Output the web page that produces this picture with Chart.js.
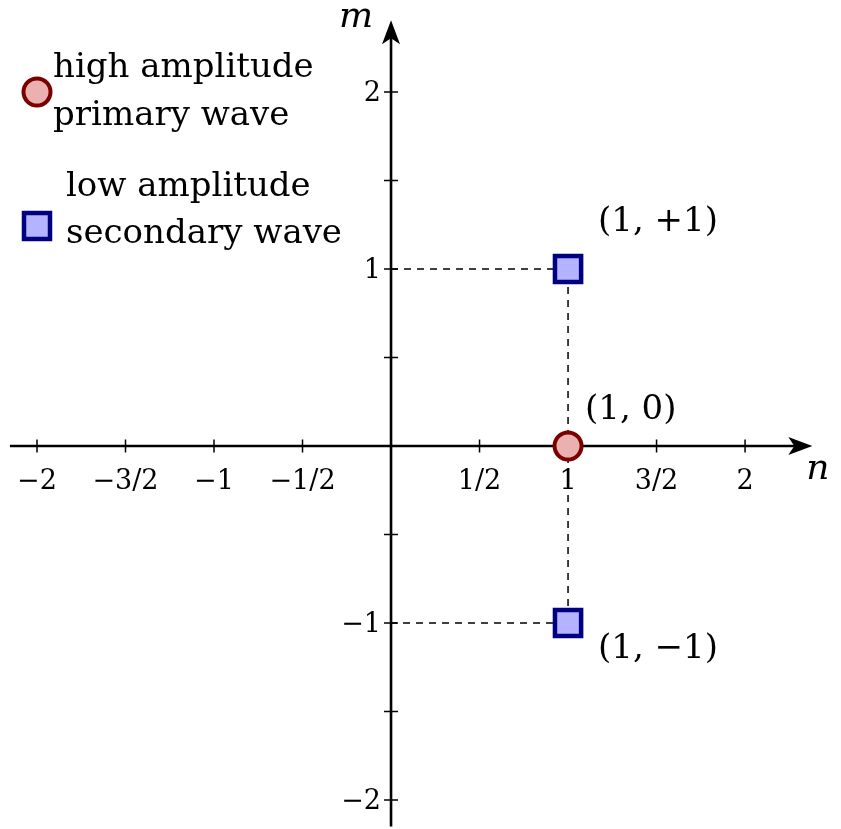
<!DOCTYPE html>
<html>
<head>
<meta charset="utf-8">
<script src="https://cdn.jsdelivr.net/npm/chart.js@4/dist/chart.umd.min.js"></script>
<style>
  html, body { margin: 0; padding: 0; background: #fff; }
  canvas { display: block; }
</style>
</head>
<body>
<canvas id="c" width="841" height="829"></canvas>
<script>
// data
var primaryN = [1];
var primaryM = [0];
var secondaryN = [1, 1];
var secondaryM = [1, -1];
var pointLabels = ['(1, +1)', '(1, 0)', '(1, \u22121)'];

var xTicks = [-2, -1.5, -1, -0.5, 0.5, 1, 1.5, 2];
var xTickLabels = ['\u22122', '\u22123/2', '\u22121', '\u22121/2', '1/2', '1', '3/2', '2'];
var yTicks = [-2, -1.5, -1, -0.5, 0.5, 1, 1.5, 2];
var yTickLabels = ['\u22122', '', '\u22121', '', '', '1', '', '2'];

var legendLines = [
  ['high amplitude', 'primary wave'],
  ['low amplitude', 'secondary wave'],
];

var serif = '"DejaVu Serif", "Liberation Serif", serif';
var colors = {
  primaryFill: '#ebb1b1',
  primaryEdge: '#7b0000',
  secondaryFill: '#b3b3ff',
  secondaryEdge: '#000080',
};

function zip(xs, ys) {
  return xs.map(function (x, i) {
    return { x: x, y: ys[i] };
  });
}

var guide = [
  { x: 0, y: secondaryM[0] },
  { x: secondaryN[0], y: secondaryM[0] },
  { x: secondaryN[1], y: secondaryM[1] },
  { x: 0, y: secondaryM[1] },
];

function arrowHead(ctx, x, y, dx, dy) {
  // stealth-like arrow, tip at (x, y), pointing along (dx, dy)
  var len = 24, half = 9, notch = 6;
  var px = -dy, py = dx;
  ctx.beginPath();
  ctx.moveTo(x, y);
  ctx.lineTo(x - dx * len + px * half, y - dy * len + py * half);
  ctx.lineTo(x - dx * (len - notch), y - dy * (len - notch));
  ctx.lineTo(x - dx * len - px * half, y - dy * len - py * half);
  ctx.closePath();
  ctx.fill();
}

var axesPlugin = {
  id: 'axes',
  beforeDatasetsDraw: function (chart) {
    var ctx = chart.ctx;
    var xs = chart.scales.x, ys = chart.scales.y;
    var ox = xs.getPixelForValue(0), oy = ys.getPixelForValue(0);
    ctx.save();
    ctx.strokeStyle = '#000';
    ctx.fillStyle = '#000';

    // axis lines
    ctx.lineWidth = 2.6;
    var xl = xs.getPixelForValue(-2.153), xr = xs.getPixelForValue(2.38);
    var yb = ys.getPixelForValue(-2.15), yt = ys.getPixelForValue(2.405);
    ctx.beginPath();
    ctx.moveTo(xl, oy); ctx.lineTo(xr - 8, oy);
    ctx.moveTo(ox, yb); ctx.lineTo(ox, yt + 8);
    ctx.stroke();
    arrowHead(ctx, xr, oy, 1, 0);
    arrowHead(ctx, ox, yt, 0, -1);

    // ticks
    ctx.lineWidth = 1.5;
    ctx.beginPath();
    xTicks.forEach(function (v) {
      var p = xs.getPixelForValue(v);
      ctx.moveTo(p, oy - 6.5); ctx.lineTo(p, oy + 6.5);
    });
    yTicks.forEach(function (v) {
      var p = ys.getPixelForValue(v);
      ctx.moveTo(ox - 7, p); ctx.lineTo(ox + 7, p);
    });
    ctx.stroke();

    // tick labels
    ctx.font = '27px ' + serif;
    ctx.textAlign = 'center';
    ctx.textBaseline = 'alphabetic';
    xTicks.forEach(function (v, i) {
      ctx.fillText(xTickLabels[i], xs.getPixelForValue(v), oy + 43);
    });
    ctx.textAlign = 'right';
    ctx.textBaseline = 'middle';
    yTicks.forEach(function (v, i) {
      if (yTickLabels[i]) ctx.fillText(yTickLabels[i], ox - 10, ys.getPixelForValue(v) + 2);
    });

    // axis titles
    ctx.font = 'italic 36px ' + serif;
    ctx.textAlign = 'left';
    ctx.textBaseline = 'alphabetic';
    ctx.fillText('n', xs.getPixelForValue(2.345), oy + 33);
    ctx.fillText('m', ox - 52, ys.getPixelForValue(2.37));
    ctx.restore();
  },
  afterDatasetsDraw: function (chart) {
    var ctx = chart.ctx;
    var xs = chart.scales.x, ys = chart.scales.y;
    ctx.save();
    ctx.fillStyle = '#000';
    ctx.font = '34px ' + serif;
    ctx.textAlign = 'left';
    ctx.textBaseline = 'alphabetic';

    // point labels
    var p1 = [xs.getPixelForValue(secondaryN[0]), ys.getPixelForValue(secondaryM[0])];
    var p0 = [xs.getPixelForValue(primaryN[0]), ys.getPixelForValue(primaryM[0])];
    var p2 = [xs.getPixelForValue(secondaryN[1]), ys.getPixelForValue(secondaryM[1])];
    ctx.fillText(pointLabels[0], p1[0] + 30, p1[1] - 38);
    ctx.fillText(pointLabels[1], p0[0] + 17, p0[1] - 27);
    ctx.fillText(pointLabels[2], p2[0] + 30, p2[1] + 35);

    // legend
    ctx.lineWidth = 4;
    ctx.fillStyle = colors.primaryFill;
    ctx.strokeStyle = colors.primaryEdge;
    ctx.beginPath();
    ctx.arc(37, 92, 13.5, 0, Math.PI * 2);
    ctx.fill();
    ctx.stroke();

    ctx.lineWidth = 4.5;
    ctx.fillStyle = colors.secondaryFill;
    ctx.strokeStyle = colors.secondaryEdge;
    ctx.fillRect(24, 213, 26, 26);
    ctx.strokeRect(24, 213, 26, 26);

    ctx.fillStyle = '#000';
    ctx.font = '34px ' + serif;
    ctx.fillText(legendLines[0][0], 53, 77);
    ctx.fillText(legendLines[0][1], 53, 125);
    ctx.fillText(legendLines[1][0], 66, 196);
    ctx.fillText(legendLines[1][1], 66, 243);
    ctx.restore();
  },
};

new Chart(document.getElementById('c'), {
  type: 'scatter',
  data: {
    datasets: [
      {
        label: 'high amplitude primary wave',
        data: zip(primaryN, primaryM),
        pointStyle: 'circle',
        pointRadius: 13.5,
        borderWidth: 4,
        backgroundColor: colors.primaryFill,
        borderColor: colors.primaryEdge,
        order: 1,
      },
      {
        label: 'low amplitude secondary wave',
        data: zip(secondaryN, secondaryM),
        pointStyle: 'rect',
        pointRadius: 18.5,
        borderWidth: 4.5,
        backgroundColor: colors.secondaryFill,
        borderColor: colors.secondaryEdge,
        order: 2,
      },
      {
        label: 'guide',
        data: guide,
        showLine: true,
        pointRadius: 0,
        borderWidth: 1.5,
        borderDash: [7, 6],
        borderColor: '#000',
        fill: false,
        order: 5,
      },
    ],
  },
  options: {
    responsive: false,
    animation: false,
    events: [],
    layout: { padding: 0, autoPadding: false },
    scales: {
      x: { type: 'linear', display: false, min: -2.209, max: 2.542 },
      y: { type: 'linear', display: false, min: -2.164, max: 2.520 },
    },
    plugins: { legend: { display: false }, tooltip: { enabled: false } },
  },
  plugins: [axesPlugin],
});
</script>
</body>
</html>
